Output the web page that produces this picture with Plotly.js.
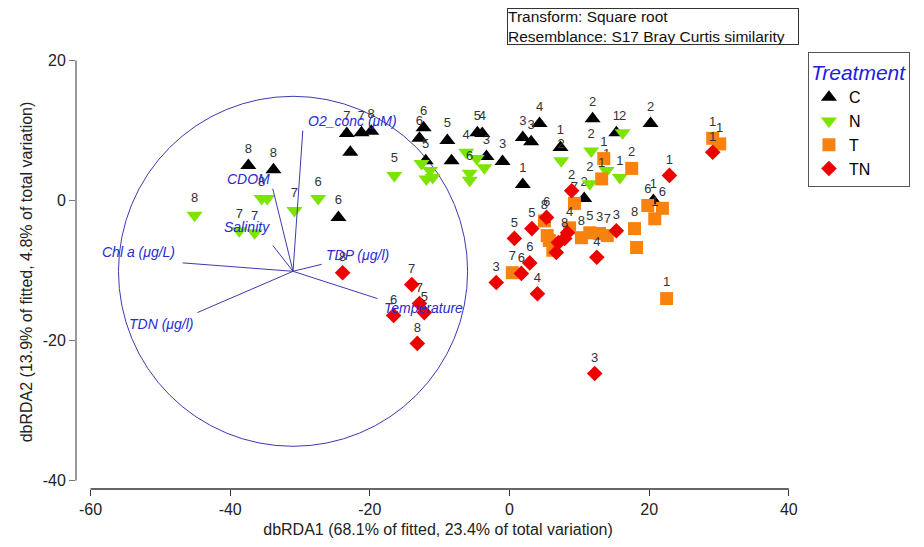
<!DOCTYPE html>
<html>
<head>
<meta charset="utf-8">
<script src="https://cdn.plot.ly/plotly-3.0.1.min.js"></script>
<style>html,body{margin:0;padding:0;background:#fff;}#chart{width:924px;height:547px;}</style>
</head>
<body>
<div id="chart"></div>
<script>
// ---- data ----
const treatments = ["C", "N", "T", "TN"];

const cX = [-37.4, -33.8, -24.5, -23.3, -21.2, -19.8, -22.8, -12.3, -12.9, -12.0, -8.9, -8.3, -4.6, -3.9, -3.3, -1.0, 1.9, 1.9, 3.1, 4.3, 7.3, 11.9, 15.3, 20.2, 10.7, 20.6];
const cY = [5.0, 4.4, -2.4, 9.6, 9.7, 9.9, 6.9, 10.4, 8.9, 5.7, 8.6, 5.7, 9.7, 9.6, 6.3, 5.6, 9.0, 2.3, 8.4, 11.0, 7.6, 11.7, 9.7, 11.0, 0.3, 0.0];
const cLab = ["8","8","6","7","7","8","","6","6","5","5","","5","4","3","3","3","1","3","4","1","2","1","2","2","1"];

const nX = [-45.1, -35.5, -34.7, -30.8, -27.4, -38.7, -36.5, -16.5, -12.6, -11.9, -11.0, -11.4, -6.2, -5.7, -5.7, -3.6, -4.7, 7.4, 11.7, 16.2, 13.9, 15.8, 11.5];
const nY = [-2.1, 0.3, 0.3, -1.4, 0.3, -4.3, -4.6, 3.6, 5.3, 3.1, 3.3, 4.3, 6.9, 3.9, 2.9, 4.7, 6.0, 5.7, 7.1, 9.7, 4.3, 3.3, 2.4];
const nLab = ["8","8","","7","6","7","7","5","","","","","4","6","","","","2","2","2","1","1","2"];

const tX = [13.5, 17.5, 13.2, 29.1, 30.1, 9.3, 19.8, 21.9, 20.8, 5.0, 5.7, 6.2, 8.6, 10.3, 11.5, 12.9, 14.0, 17.9, 18.2, 0.4, 22.5, 5.4];
const tY = [6.0, 4.6, 3.1, 8.9, 8.1, -0.4, -0.7, -1.1, -2.6, -2.9, -5.7, -7.1, -3.9, -5.3, -4.6, -4.7, -5.0, -4.0, -6.7, -10.3, -14.0, -5.0];
const tLab = ["1","2","1","1","1","7","6","6","1","8","","","4","8","5","3","7","8","","7","1","2"];

const tnX = [22.9, 29.1, 8.9, 3.2, 0.7, 2.9, 7.9, 8.3, 15.3, 12.5, 4.0, 6.7, 5.3, -1.9, 1.7, 12.2, -23.9, -14.0, -12.9, -12.2, -16.6, -13.2, 7.0];
const tnY = [3.6, 6.9, 1.4, -4.0, -5.4, -8.9, -5.4, -4.6, -4.3, -8.1, -13.3, -7.4, -2.4, -11.7, -10.4, -24.7, -10.3, -12.0, -14.7, -16.0, -16.4, -20.4, -6.0];
const tnLab = ["1","1","2","5","5","6","8","","3","4","4","","6","3","6","3","8","7","7","5","6","8",""];

// dbRDA vectors (origin and end points, in plot units)
const vecOrigin = [-31.0, -10.1];
const vecNames = ["O2_conc (μM)", "CDOM", "Salinity", "Chl a (μg/L)", "TDN (μg/l)", "TDP (μg/l)", "Temperature"];
const vecEndX = [-29.6, -33.9, -33.9, -46.8, -44.7, -26.9, -18.9];
const vecEndY = [10.0, 1.7, -6.4, -8.9, -16.0, -9.1, -14.0];
const circleRadius = 25;

const xTicks = [-60, -40, -20, 0, 20, 40];
const yTicks = [-40, -20, 0, 20];

// ---- styles ----
const labelPosX = [-29.1, -40.8, -41.2, -58.7, -54.8, -26.5, -18.3];
const labelPosY = [11.4, 3.1, -3.7, -7.4, -17.6, -7.7, -15.4];
const colors = {C: "#000000", N: "#7CE400", T: "#F7830E", TN: "#EC0000"};
const symbols = {C: "triangle-up", N: "triangle-down", T: "square", TN: "diamond"};
const sizes = {C: 14, N: 14, T: 13, TN: 12};
const FONT = "Liberation Sans, Arial, sans-serif";

function mk(name, x, y, lab) {
  return {
    type: "scatter", mode: "markers+text", name: name, x: x, y: y, text: lab,
    textposition: "top center",
    textfont: {family: FONT, size: 13, color: "#333"},
    marker: {symbol: symbols[name], color: colors[name], size: sizes[name], line: {width: 0}},
    cliponaxis: false
  };
}

const traces = [mk("C", cX, cY, cLab), mk("N", nX, nY, nLab), mk("T", tX, tY, tLab), mk("TN", tnX, tnY, tnLab)];

const shapes = [];
const annotations = [];
const vecColor = "#3b3bb0";
shapes.push({type: "circle", xref: "x", yref: "y",
  x0: vecOrigin[0] - circleRadius, x1: vecOrigin[0] + circleRadius,
  y0: vecOrigin[1] - circleRadius, y1: vecOrigin[1] + circleRadius,
  line: {color: vecColor, width: 1}, layer: "below"});
vecNames.forEach((nm, i) => {
  shapes.push({type: "line", xref: "x", yref: "y", x0: vecOrigin[0], y0: vecOrigin[1],
    x1: vecEndX[i], y1: vecEndY[i], line: {color: vecColor, width: 1}, layer: "above"});
  annotations.push({xref: "x", yref: "y", x: labelPosX[i], y: labelPosY[i], text: nm,
    showarrow: false, xanchor: "left", yanchor: "middle",
    font: {family: FONT, size: 14, color: "#2a2ad0", style: "italic"}});
});
// detached axis lines
shapes.push({type: "line", xref: "paper", yref: "y", x0: 0, x1: 0, y0: yTicks[0], y1: yTicks[yTicks.length - 1], line: {color: "#777", width: 1.5}});
shapes.push({type: "line", xref: "x", yref: "paper", x0: xTicks[0], x1: xTicks[xTicks.length - 1], y0: 0, y1: 0, line: {color: "#333", width: 1.5}});

annotations.push({xref: "paper", yref: "paper", x: 0.595, y: 1.108, xanchor: "left", yanchor: "top",
  text: "Transform: Square root<br>Resemblance: S17 Bray Curtis similarity", align: "left",
  width: 290, height: 35,
  showarrow: false, bordercolor: "#333", borderwidth: 1, borderpad: 0, bgcolor: "#fff",
  font: {family: FONT, size: 15.5, color: "#111"}});

const layout = {
  width: 924, height: 547,
  margin: {l: 76, r: 124, t: 55, b: 58},
  paper_bgcolor: "#fff", plot_bgcolor: "#fff",
  showlegend: true,
  legend: {x: 1.011, y: 1.007, xanchor: "left", yanchor: "top",
    bordercolor: "#555", borderwidth: 1, bgcolor: "#fff",
    font: {family: FONT, size: 16, color: "#000"},
    title: {text: "Treatment", font: {family: FONT, size: 21, color: "#2020e0", style: "italic"}},
    tracegroupgap: 2},
  xaxis: {range: [-62.08, 41.6], tickvals: xTicks, ticktext: xTicks.map(String),
    showgrid: false, zeroline: false, showline: false, ticks: "outside", ticklen: 6, tickcolor: "#333",
    tickfont: {family: FONT, size: 16, color: "#222"},
    title: {text: "dbRDA1 (68.1% of fitted, 23.4% of total variation)", font: {family: FONT, size: 16, color: "#222"}, standoff: 6}},
  yaxis: {range: [-41.2, 20.8], tickvals: yTicks, ticktext: yTicks.map(String),
    showgrid: false, zeroline: false, showline: false, ticks: "outside", ticklen: 6, tickcolor: "#777",
    tickfont: {family: FONT, size: 16, color: "#222"},
    title: {text: "dbRDA2 (13.9% of fitted, 4.8% of total variation)", font: {family: FONT, size: 16, color: "#222"}, standoff: 6}},
  shapes: shapes,
  annotations: annotations
};

Plotly.newPlot("chart", traces, layout, {staticPlot: true, displayModeBar: false});
</script>
</body>
</html>
